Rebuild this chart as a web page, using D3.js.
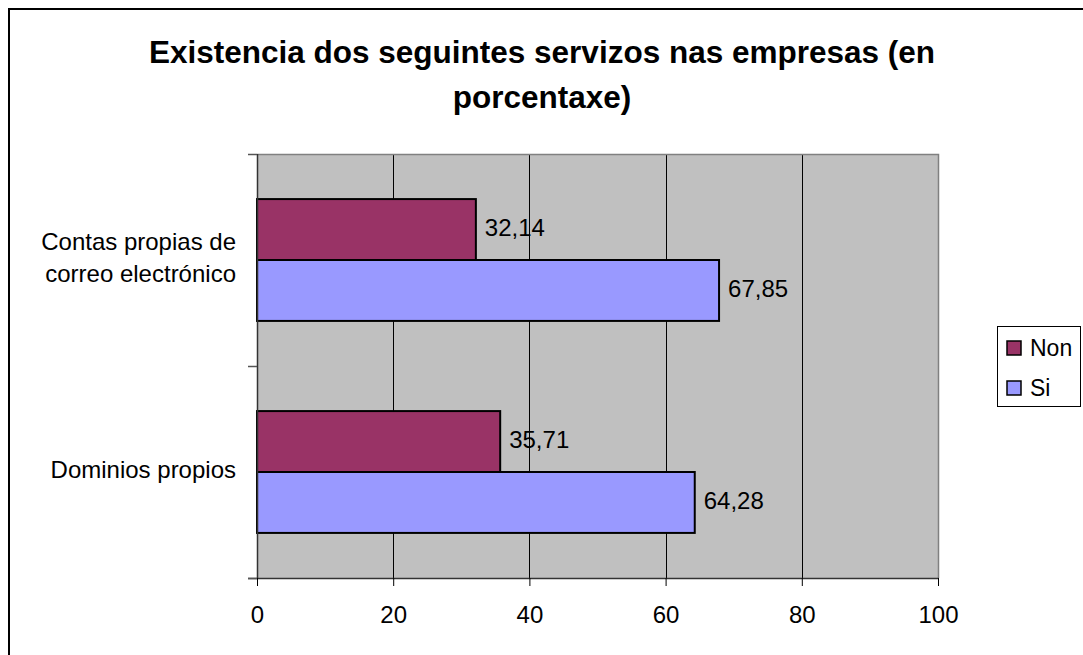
<!DOCTYPE html>
<html>
<head>
<meta charset="utf-8">
<script src="https://cdn.jsdelivr.net/npm/d3@7"></script>
<style>
  html, body { margin: 0; padding: 0; background: #fff; }
  svg { display: block; font-family: "Liberation Sans", Arial, sans-serif; }
</style>
</head>
<body>
<svg id="chart" width="1083" height="655"></svg>
<script>
// Survey results: share of companies with each service (percent)
const categories = [["Contas propias de", "correo electrónico"], ["Dominios propios"]];
const categoryKeys = ["correo", "dominios"];
const seriesNames = ["Non", "Si"];
const nonValues = [32.14, 35.71];
const siValues = [67.85, 64.28];
const nonLabels = ["32,14", "35,71"];
const siLabels = ["67,85", "64,28"];
const xTicks = [0, 20, 40, 60, 80, 100];
const colors = ["#993366", "#9999FF"];

const svg = d3.select("#chart");
const fs = 24;

// Outer chart frame
svg.append("rect")
  .attr("x", 9).attr("y", 9).attr("width", 1083).attr("height", 655)
  .attr("fill", "#fff").attr("stroke", "#000").attr("stroke-width", 2);

// Title
const title = svg.append("text")
  .attr("text-anchor", "middle")
  .attr("font-weight", "bold").attr("font-size", 31.5);
title.append("tspan").attr("x", 542).attr("y", 63).text("Existencia dos seguintes servizos nas empresas (en");
title.append("tspan").attr("x", 542).attr("y", 108).text("porcentaxe)");

const plot = { left: 257, right: 938, top: 154, bottom: 578 };

const x = d3.scaleLinear().domain([0, 100]).range([plot.left, plot.right]);
const yCat = d3.scaleBand().domain(categoryKeys).range([plot.top, plot.bottom]).paddingInner(0).paddingOuter(0);
const ySer = d3.scaleBand().domain(seriesNames).range([0, yCat.bandwidth()]).paddingOuter(0.74).paddingInner(0);

// Plot background
svg.append("rect")
  .attr("x", plot.left).attr("y", plot.top)
  .attr("width", plot.right - plot.left).attr("height", plot.bottom - plot.top)
  .attr("fill", "#C0C0C0");

// Vertical gridlines
svg.append("g").selectAll("line")
  .data(xTicks.filter(t => t > 0 && t < 100))
  .join("line")
  .attr("x1", d => Math.round(x(d)) + 0.5).attr("x2", d => Math.round(x(d)) + 0.5)
  .attr("y1", plot.top).attr("y2", plot.bottom)
  .attr("stroke", "#000").attr("stroke-width", 1);

// Plot frame top and right
svg.append("path")
  .attr("d", `M${plot.left},${plot.top + 0.5}H${plot.right + 0.5}V${plot.bottom}`)
  .attr("fill", "none").attr("stroke", "#808080").attr("stroke-width", 1.5);

// Bars
const rows = categoryKeys.map((k, i) => ({ key: k, values: [nonValues[i], siValues[i]], labels: [nonLabels[i], siLabels[i]] }));
const groups = svg.append("g").selectAll("g")
  .data(rows).join("g")
  .attr("transform", d => `translate(0,${yCat(d.key)})`);

groups.selectAll("rect")
  .data(d => d.values.map((v, j) => ({ v, s: seriesNames[j], c: colors[j] })))
  .join("rect")
  .attr("x", x(0))
  .attr("y", d => ySer(d.s))
  .attr("width", d => x(d.v) - x(0))
  .attr("height", ySer.bandwidth())
  .attr("fill", d => d.c)
  .attr("stroke", "#000").attr("stroke-width", 2);

groups.selectAll("text")
  .data(d => d.values.map((v, j) => ({ v, s: seriesNames[j], label: d.labels[j] })))
  .join("text")
  .attr("x", d => x(d.v) + 9)
  .attr("y", d => ySer(d.s) + ySer.bandwidth() / 2 - 2)
  .attr("dy", "0.35em")
  .attr("font-size", fs)
  .attr("fill", "#000")
  .text(d => d.label);

// Bottom axis
const xAxis = d3.axisBottom(x).tickValues(xTicks).tickSize(8).tickPadding(20).tickFormat(d3.format("d"));
const gx = svg.append("g").attr("transform", `translate(0,${plot.bottom})`).call(xAxis);
gx.select(".domain").attr("stroke", "#333").attr("stroke-width", 1.5).attr("d", `M${plot.left - 9},0.5H${plot.right + 0.5}`);
gx.selectAll(".tick line").attr("stroke", "#000");
gx.selectAll(".tick text").attr("font-size", fs).attr("fill", "#000").attr("font-family", "Liberation Sans, Arial, sans-serif");

// Left axis line and category separator ticks
svg.append("line")
  .attr("x1", plot.left + 0.5).attr("x2", plot.left + 0.5)
  .attr("y1", plot.top).attr("y2", plot.bottom)
  .attr("stroke", "#333").attr("stroke-width", 1.5);
const sepTicks = [plot.top, yCat("dominios"), plot.bottom];
svg.append("g").selectAll("line").data(sepTicks).join("line")
  .attr("x1", plot.left - 9).attr("x2", plot.left)
  .attr("y1", d => d + 0.5).attr("y2", d => d + 0.5)
  .attr("stroke", "#555").attr("stroke-width", 1.5);

// Category labels
svg.append("g").selectAll("text")
  .data(categoryKeys.map((k, i) => ({ key: k, lines: categories[i] })))
  .join("text")
  .attr("text-anchor", "end")
  .attr("font-size", fs)
  .attr("fill", "#000")
  .each(function(d) {
    const cy = yCat(d.key) + yCat.bandwidth() / 2 - 2;
    const n = d.lines.length;
    const lh = 32;
    d3.select(this).selectAll("tspan").data(d.lines).join("tspan")
      .attr("x", 236)
      .attr("y", (l, i) => cy + (i - (n - 1) / 2) * lh)
      .attr("dy", "0.35em")
      .text(l => l);
  });

// Legend
const legend = svg.append("g").attr("transform", "translate(997,326)");
legend.append("rect").attr("x", 0.5).attr("y", 0.5).attr("width", 83).attr("height", 80)
  .attr("fill", "#fff").attr("stroke", "#000").attr("stroke-width", 1);
const items = legend.selectAll("g.item").data(seriesNames).join("g")
  .attr("class", "item")
  .attr("transform", (d, i) => `translate(0,${22 + i * 40})`);
items.append("rect").attr("x", 10).attr("y", -7).attr("width", 14).attr("height", 14)
  .attr("fill", (d, i) => colors[i]).attr("stroke", "#000").attr("stroke-width", 1.5);
items.append("text").attr("x", 33).attr("y", 0).attr("dy", "0.35em")
  .attr("font-size", 23).attr("fill", "#000").text(d => d);
</script>
</body>
</html>
